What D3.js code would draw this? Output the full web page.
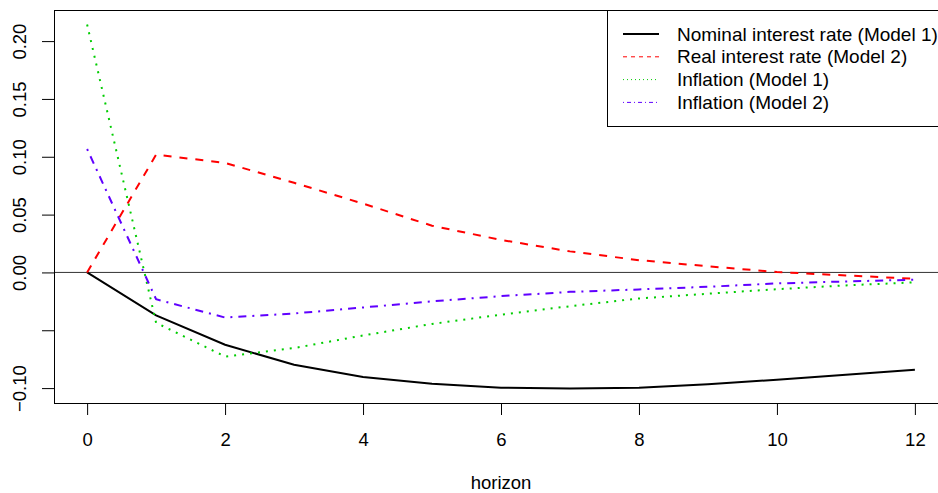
<!DOCTYPE html>
<html>
<head>
<meta charset="utf-8">
<script src="https://cdn.jsdelivr.net/npm/d3@7"></script>
<style>
  body { margin: 0; background: #fff; }
  svg { display: block; font-family: "Liberation Sans", Arial, sans-serif; }
</style>
</head>
<body>
<script>
// impulse responses, horizons 0..12
var horizon = [0, 1, 2, 3, 4, 5, 6, 7, 8, 9, 10, 11, 12];
var nominalM1 = [0, -0.0372, -0.0625, -0.0798, -0.0905, -0.0963, -0.0997, -0.1003, -0.0997, -0.0967, -0.0928, -0.0885, -0.0842];
var realM2 = [0, 0.1018, 0.0947, 0.0775, 0.0595, 0.0404, 0.0281, 0.0182, 0.0106, 0.0053, 0.0003, -0.0026, -0.0055];
var inflM1 = [0.2143, -0.0435, -0.0727, -0.0654, -0.0545, -0.0445, -0.0365, -0.0292, -0.0225, -0.0184, -0.0145, -0.0112, -0.0086];
var inflM2 = [0.1067, -0.0232, -0.0390, -0.0355, -0.0303, -0.0250, -0.0205, -0.0168, -0.0147, -0.0124, -0.0095, -0.0078, -0.0063];

var seriesNames = ["Nominal interest rate (Model 1)", "Real interest rate (Model 2)", "Inflation (Model 1)", "Inflation (Model 2)"];
var seriesValues = [nominalM1, realM2, inflM1, inflM2];
var seriesColors = ["#000000", "#ff0000", "#00cd00", "#6000ff"];
var xTicks = [0, 2, 4, 6, 8, 10, 12];
var yTicks = [-0.10, -0.05, 0.00, 0.05, 0.10, 0.15, 0.20];
var yTickLabels = ["\u22120.10", "", "0.00", "0.05", "0.10", "0.15", "0.20"];

var width = 938, height = 493;
var plotLeft = 54, plotRight = 948, plotTop = 10, plotBottom = 403;
var fontSize = "18.5px";

// dash patterns like R's lty 1..4, at lwd 2 and lwd 1
var dashPlot = [null, "8,8", "2,6", "2,6,8,6"];
var dashKey = [null, "4,4", "1,3", "1,3,4,3"];

var svg = d3.select("body").append("svg")
    .attr("width", width)
    .attr("height", height);

// R pads the data range by 4% on each side
var allY = d3.merge(seriesValues);
var yMin = d3.min(allY), yMax = d3.max(allY);
var yPad = (yMax - yMin) * 0.04;
var xPad = (d3.max(horizon) - d3.min(horizon)) * 0.04;

var x = d3.scaleLinear()
    .domain([d3.min(horizon) - xPad, d3.max(horizon) + xPad])
    .range([plotLeft, plotRight]);

var y = d3.scaleLinear()
    .domain([yMin - yPad, yMax + yPad])
    .range([plotBottom, plotTop]);

var xAxis = d3.axisBottom(x)
    .tickValues(xTicks)
    .tickSize(12)
    .tickPadding(18)
    .tickFormat(d3.format("d"));

var yAxis = d3.axisLeft(y)
    .tickValues(yTicks)
    .tickSize(12)
    .tickFormat(function (d, i) { return yTickLabels[i]; });

var gx = svg.append("g")
    .attr("transform", "translate(0," + plotBottom + ")")
    .call(xAxis);
gx.select(".domain").remove();
gx.selectAll("line").attr("stroke", "#000");
gx.selectAll("text")
    .attr("font-size", fontSize)
    .attr("fill", "#000")
    .attr("font-family", "Liberation Sans, Arial, sans-serif");

var gy = svg.append("g")
    .attr("transform", "translate(" + plotLeft + ",0)")
    .call(yAxis);
gy.select(".domain").remove();
gy.selectAll("line").attr("stroke", "#000");
gy.selectAll("text")
    .attr("font-size", fontSize)
    .attr("fill", "#000")
    .attr("font-family", "Liberation Sans, Arial, sans-serif")
    .attr("text-anchor", "middle")
    .attr("dy", null)
    .attr("x", null)
    .attr("transform", "translate(-28.5,0) rotate(-90)");

// zero line
svg.append("line")
    .attr("x1", plotLeft).attr("x2", plotRight)
    .attr("y1", y(0)).attr("y2", y(0))
    .attr("stroke", "#333")
    .attr("stroke-width", 1);

var line = d3.line()
    .x(function (d, i) { return x(horizon[i]); })
    .y(function (d) { return y(d); });

svg.selectAll("path.series")
    .data(seriesValues)
    .enter()
    .append("path")
    .attr("class", "series")
    .attr("d", line)
    .attr("fill", "none")
    .attr("stroke", function (d, i) { return seriesColors[i]; })
    .attr("stroke-width", 2)
    .attr("stroke-dasharray", function (d, i) { return dashPlot[i]; });

// plot box
svg.append("rect")
    .attr("x", plotLeft + 0.5).attr("y", plotTop + 0.5)
    .attr("width", plotRight - plotLeft).attr("height", plotBottom - plotTop)
    .attr("fill", "none")
    .attr("stroke", "#000")
    .attr("stroke-width", 1);

svg.append("text")
    .attr("x", (plotLeft + plotRight) / 2)
    .attr("y", 489)
    .attr("text-anchor", "middle")
    .attr("font-size", fontSize)
    .text("horizon");

// legend
var legend = svg.append("g");
legend.append("rect")
    .attr("x", 607.5).attr("y", plotTop + 0.5)
    .attr("width", plotRight - 607).attr("height", 116)
    .attr("fill", "#fff")
    .attr("stroke", "#000");

var rows = legend.selectAll("g.row")
    .data(seriesNames)
    .enter()
    .append("g")
    .attr("class", "row")
    .attr("transform", function (d, i) { return "translate(0," + (34 + i * 22.8) + ")"; });

rows.append("line")
    .attr("x1", 623).attr("x2", 659)
    .attr("y1", 0).attr("y2", 0)
    .attr("stroke", function (d, i) { return seriesColors[i]; })
    .attr("stroke-width", function (d, i) { return i == 0 ? 2 : 1; })
    .attr("stroke-dasharray", function (d, i) { return dashKey[i]; });

rows.append("text")
    .attr("x", 677)
    .attr("y", 6.5)
    .attr("font-size", "19px")
    .text(function (d) { return d; });
</script>
</body>
</html>
